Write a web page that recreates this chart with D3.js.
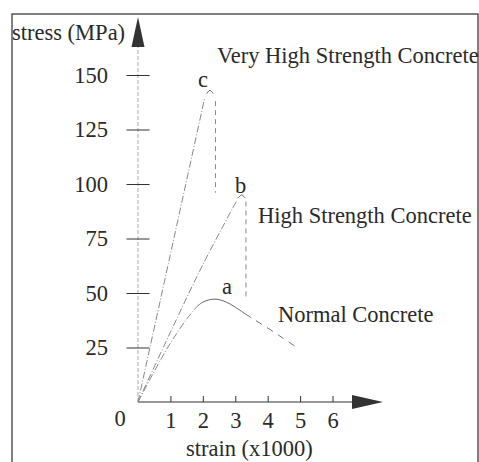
<!DOCTYPE html>
<html>
<head>
<meta charset="utf-8">
<script src="https://d3js.org/d3.v7.min.js"></script>
<style>
  body { margin: 0; background: #fff; }
  text { font-family: "Liberation Serif", "Times New Roman", serif; fill: #2a2a2a; }
</style>
</head>
<body>
<svg id="chart" width="479" height="462"></svg>
<script>
// strain (x1000) and stress (MPa)
var xTicks = [1, 2, 3, 4, 5, 6];
var yTicks = [25, 50, 75, 100, 125, 150];

// c - very high strength
var cRise = [[0, 0], [2.05, 139]];
var cPeak = [[2.12, 141.5], [2.22, 143], [2.32, 141.5]];
var cDrop = [[2.39, 138], [2.39, 96]];

// b - high strength
var bRise = [[0, 0], [1, 32], [2, 63], [3.05, 92.5]];
var bPeak = [[3.08, 93.5], [3.2, 95], [3.31, 93.5]];
var bDrop = [[3.33, 92], [3.33, 48]];

// a - normal
var aRise = [[0, 0], [0.5, 14], [1, 27], [1.5, 38], [1.8, 43.5]];
var aPeak = [[1.8, 43.5], [2.0, 45.8], [2.35, 47.2], [2.7, 46], [3.0, 43.5], [3.3, 40.5]];
var aTail = [[3.3, 40.5], [4.1, 33], [4.9, 25]];

var labels = [
  {t: "stress (MPa)", x: 12, y: 40},
  {t: "Very High Strength Concrete", x: 217, y: 63},
  {t: "High Strength Concrete", x: 258, y: 223},
  {t: "Normal Concrete", x: 278, y: 322},
  {t: "c", x: 198, y: 87},
  {t: "b", x: 235, y: 193},
  {t: "a", x: 222, y: 294},
  {t: "strain (x1000)", x: 186, y: 456}
];

var fs = "22.5px";
var svg = d3.select("#chart");

svg.append("rect")
  .attr("x", 12).attr("y", 14).attr("width", 466).attr("height", 470)
  .attr("fill", "none").attr("stroke", "#555").attr("stroke-width", 1.5);

var x = d3.scaleLinear().domain([0, 6]).range([138, 332.5]);
var y = d3.scaleLinear().domain([0, 150]).range([402, 75]);

// y axis: light dashed line, crossing ticks, arrow on top
svg.append("line")
  .attr("x1", x(0)).attr("x2", x(0)).attr("y1", y(0)).attr("y2", 46)
  .attr("stroke", "#aaa").attr("stroke-width", 1).attr("stroke-dasharray", "4,2");
svg.append("path")
  .attr("d", "M" + (x(0) - 6.5) + ",47L" + x(0) + ",17L" + (x(0) + 6.5) + ",47Z")
  .attr("fill", "#333");

var yAxis = svg.append("g")
  .attr("transform", "translate(" + x(0) + ",0)")
  .call(d3.axisLeft(y).tickValues(yTicks).tickSize(0).tickPadding(30));
yAxis.select(".domain").remove();
yAxis.selectAll(".tick line")
  .attr("x1", -11.5).attr("x2", 11.5).attr("stroke", "#333");
yAxis.selectAll("text").style("font-size", fs).attr("fill", "#2a2a2a");

// x axis: solid line, upward ticks, arrow at right
svg.append("line")
  .attr("x1", x(0)).attr("x2", 353).attr("y1", y(0)).attr("y2", y(0))
  .attr("stroke", "#333").attr("stroke-width", 1.2);
svg.append("path")
  .attr("d", "M352," + (y(0) - 7) + "L383," + y(0) + "L352," + (y(0) + 7) + "Z")
  .attr("fill", "#333");

var xAxis = svg.append("g")
  .attr("transform", "translate(0," + y(0) + ")")
  .call(d3.axisBottom(x).tickValues(xTicks).tickFormat(d3.format("d"))
    .tickSizeInner(-6).tickSizeOuter(0).tickPadding(10));
xAxis.select(".domain").remove();
xAxis.selectAll(".tick line").attr("stroke", "#333");
xAxis.selectAll("text").style("font-size", fs).attr("fill", "#2a2a2a");

svg.append("text").attr("x", 120).attr("y", 426)
  .attr("text-anchor", "middle").style("font-size", fs).text("0");

// curves
var line = d3.line().x(function(d) { return x(d[0]); }).y(function(d) { return y(d[1]); });
var smooth = d3.line().curve(d3.curveCatmullRom)
  .x(function(d) { return x(d[0]); }).y(function(d) { return y(d[1]); });

function seg(data, gen, dash, col) {
  svg.append("path").datum(data)
    .attr("d", gen)
    .attr("fill", "none")
    .attr("stroke", col || "#888")
    .attr("stroke-width", 1)
    .attr("stroke-dasharray", dash);
}

seg(cRise, line, "7,2,1,2");
seg(cPeak, smooth, null, "#666");
seg(cDrop, line, "5,4");

seg(bRise, smooth, "7,2,1,2");
seg(bPeak, smooth, null, "#666");
seg(bDrop, line, "5,4");

seg(aRise, smooth, "7,2,1,2");
seg(aPeak, smooth, null, "#666");
seg(aTail, line, "7,6", "#777");

svg.selectAll(".lbl").data(labels).enter().append("text")
  .attr("class", "lbl")
  .attr("x", function(d) { return d.x; })
  .attr("y", function(d) { return d.y; })
  .style("font-size", fs)
  .text(function(d) { return d.t; });
</script>
</body>
</html>
